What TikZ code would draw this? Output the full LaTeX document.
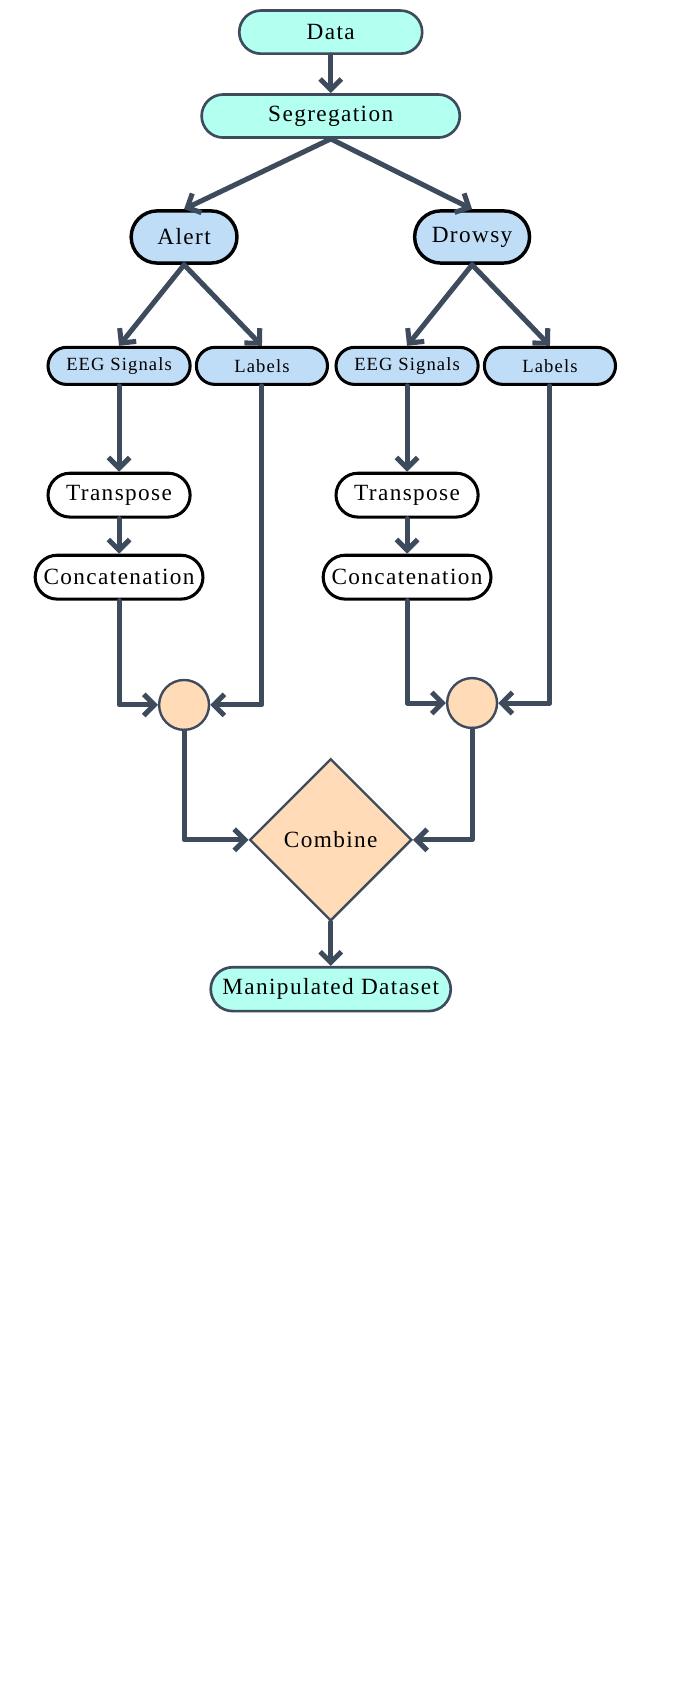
\documentclass[tikz,border=0pt]{standalone}
\usepackage{fontspec}
\setmainfont{Liberation Serif}[LetterSpace=6]
\usetikzlibrary{arrows.meta,shapes.misc,shapes.geometric}
\definecolor{slate}{HTML}{3D4B5C}
\definecolor{aqua}{HTML}{B3FFF0}
\definecolor{sky}{HTML}{C0DDF8}
\definecolor{peach}{HTML}{FFDBB8}
\tikzset{
  flow/.style={draw=slate, line width=3.8pt, line cap=round, line join=round,
    -{Straight Barb[length=8pt,width=16pt]}},
  term/.style={rounded rectangle, draw=slate, fill=aqua, line width=2pt,
    inner sep=0pt, minimum height=1.14cm, font=\fontsize{17.5}{20}\selectfont},
  group/.style={rounded rectangle, draw=black, fill=sky, line width=2.6pt,
    inner sep=0pt, minimum height=1.38cm, font=\fontsize{17.5}{20}\selectfont},
  part/.style={rounded rectangle, draw=black, fill=sky, line width=2.3pt,
    inner sep=0pt, minimum height=0.98cm, font=\fontsize{14}{16}\selectfont},
  proc/.style={rounded rectangle, draw=black, fill=white, line width=2.3pt,
    inner sep=0pt, minimum height=1.16cm, font=\fontsize{17.5}{20}\selectfont},
  merge/.style={circle, draw=slate, fill=peach, line width=1.8pt,
    inner sep=0pt, minimum size=1.32cm},
  decide/.style={diamond, aspect=1, draw=slate, fill=peach, line width=1.8pt,
    inner sep=0pt, minimum size=4.29cm, font=\fontsize{17.5}{20}\selectfont}
}
\begin{document}
\begin{tikzpicture}
  \useasboundingbox (0,0) rectangle (17.86,-44.58);
  %INICIO:
  \node[term, minimum width=4.84cm] (data) at (8.75,-0.85) {Data};
  \node[term, minimum width=6.83cm] (seg) at (8.75,-3.07) {Segregation};
  \draw[flow] (data.south) -- (seg.north);
  %ALERT:
  \begin{scope}[name prefix=L-]
    %clase y partes------------------
    \node[group, minimum width=2.80cm] (class) at (4.87,-6.27) {Alert};
    \node[part, minimum width=3.76cm] (eeg) at (3.15,-9.68) {EEG Signals};
    \node[part, minimum width=3.47cm] (lab) at (6.93,-9.68) {Labels};
    %proceso-------------------------
    \node[proc, minimum width=3.76cm] (tra) at (3.15,-13.10) {Transpose};
    \node[proc, minimum width=4.44cm] (con) at (3.15,-15.27) {Concatenation};
    \node[merge] (join) at (4.87,-18.65) {};
    \draw[flow] (class.south) -- (eeg.north);
    \draw[flow] (class.south) -- (lab.north);
    \draw[flow] (eeg.south) -- (tra.north);
    \draw[flow] (tra.south) -- (con.north);
    \draw[flow] (con.south) |- (join.west);
    \draw[flow] (lab.south) |- (join.east);
    %---------------------------------
  \end{scope}
  %DROWSY:
  \begin{scope}[xshift=7.62cm, name prefix=R-]
    %clase y partes------------------
    \node[group, minimum width=3.04cm] (class) at (4.87,-6.27) {Drowsy};
    \node[part, minimum width=3.76cm] (eeg) at (3.15,-9.68) {EEG Signals};
    \node[part, minimum width=3.47cm] (lab) at (6.93,-9.68) {Labels};
    %proceso-------------------------
    \node[proc, minimum width=3.76cm] (tra) at (3.15,-13.10) {Transpose};
    \node[proc, minimum width=4.44cm] (con) at (3.15,-15.27) {Concatenation};
    \node[merge] (join) at (4.87,-18.60) {};
    \draw[flow] (class.south) -- (eeg.north);
    \draw[flow] (class.south) -- (lab.north);
    \draw[flow] (eeg.south) -- (tra.north);
    \draw[flow] (tra.south) -- (con.north);
    \draw[flow] (con.south) |- (join.west);
    \draw[flow] (lab.south) |- (join.east);
    %---------------------------------
  \end{scope}
  \draw[flow] (seg.south) -- (L-class.north);
  \draw[flow] (seg.south) -- (R-class.north);
  %FINAL:
  \node[decide] (comb) at (8.75,-22.22) {Combine};
  \node[term, minimum width=6.35cm, minimum height=1.16cm] (out) at (8.75,-26.17) {Manipulated Dataset};
  \draw[flow] (L-join.south) |- (comb.west);
  \draw[flow] (R-join.south) |- (comb.east);
  \draw[flow] (comb.south) -- (out.north);
\end{tikzpicture}
\end{document}
